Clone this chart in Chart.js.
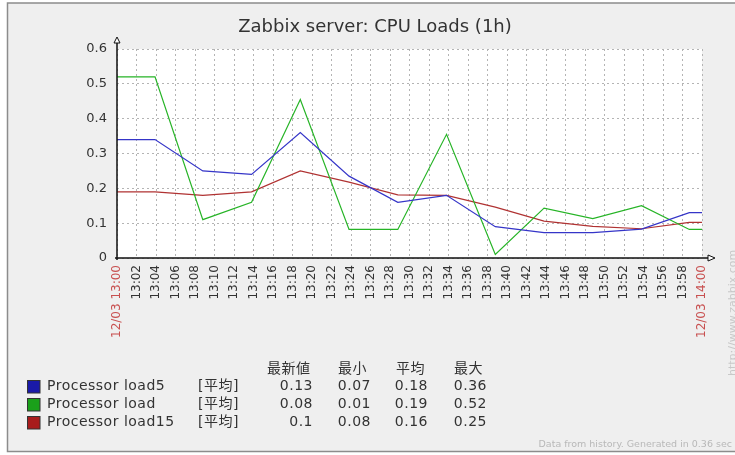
<!DOCTYPE html>
<html>
<head>
<meta charset="utf-8">
<script src="https://cdn.jsdelivr.net/npm/chart.js@4/dist/chart.umd.min.js"></script>
<style>
html, body { margin: 0; padding: 0; background: #fff; }
</style>
</head>
<body>
<canvas id="cpu-loads-chart" width="735" height="455"></canvas>
<script>
// minutes after 13:00 for every sample
const minutes = [0, 3.9, 8.8, 13.8, 18.8, 23.8, 28.8, 33.8, 38.8, 43.8, 48.8, 53.8, 58.7, 60];
const load5 = [0.34, 0.34, 0.25, 0.24, 0.36, 0.235, 0.16, 0.18, 0.09, 0.073, 0.073, 0.083, 0.13, 0.13];
const load1 = [0.52, 0.52, 0.11, 0.16, 0.455, 0.082, 0.082, 0.355, 0.01, 0.143, 0.113, 0.15, 0.082, 0.082];
const load15 = [0.19, 0.19, 0.18, 0.19, 0.25, 0.218, 0.181, 0.18, 0.146, 0.106, 0.091, 0.084, 0.102, 0.102];

const seriesNames = ['Processor load5', 'Processor load', 'Processor load15'];
const lineColors = ['#3535c8', '#26b426', '#b03232'];
const boxColors = ['#1a1aa8', '#1aa01a', '#a81c1c'];
const statHeaders = ['最新値', '最小', '平均', '最大'];
const lastVals = [0.13, 0.08, 0.1];
const minVals = [0.07, 0.01, 0.08];
const avgVals = [0.18, 0.19, 0.16];
const maxVals = [0.36, 0.52, 0.25];

const startLabel = '12/03 13:00';
const endLabel = '12/03 14:00';

Chart.defaults.font.family = "'DejaVu Sans', sans-serif";

function points(vals) {
    return minutes.map((m, i) => ({ x: m, y: vals[i] }));
}

const zabbixFrame = {
    id: 'zabbixFrame',
    beforeDraw(chart) {
        const { ctx, chartArea: a } = chart;
        ctx.save();
        ctx.fillStyle = '#ffffff';
        ctx.fillRect(0, 0, chart.width, chart.height);
        ctx.fillStyle = '#efefef';
        ctx.fillRect(7.5, 3, 740, 448.5);
        ctx.strokeStyle = '#8c8c8c';
        ctx.lineWidth = 1.5;
        ctx.strokeRect(7.5, 3, 740, 448.5);
        ctx.fillStyle = '#ffffff';
        ctx.fillRect(a.left, a.top, a.right - a.left, a.bottom - a.top);
        ctx.restore();
    },
    afterDraw(chart) {
        const { ctx, chartArea: a } = chart;
        ctx.save();
        // axes with arrows
        ctx.strokeStyle = '#111';
        ctx.lineWidth = 1.5;
        ctx.beginPath();
        ctx.moveTo(a.left, a.bottom + 2);
        ctx.lineTo(a.left, a.top - 6);
        ctx.moveTo(a.left - 2, a.bottom);
        ctx.lineTo(a.right + 6, a.bottom);
        ctx.stroke();
        ctx.lineWidth = 1;
        ctx.fillStyle = '#fff';
        ctx.beginPath();
        ctx.moveTo(a.left - 3, a.top - 6);
        ctx.lineTo(a.left + 3, a.top - 6);
        ctx.lineTo(a.left, a.top - 12);
        ctx.closePath();
        ctx.fill(); ctx.stroke();
        ctx.beginPath();
        ctx.moveTo(a.right + 6, a.bottom - 3);
        ctx.lineTo(a.right + 6, a.bottom + 3);
        ctx.lineTo(a.right + 13, a.bottom);
        ctx.closePath();
        ctx.fill(); ctx.stroke();

        // title
        ctx.fillStyle = '#333';
        ctx.textBaseline = 'middle';
        ctx.textAlign = 'center';
        ctx.font = "18px 'DejaVu Sans'";
        ctx.fillText('Zabbix server: CPU Loads (1h)', 375, 27);

        // legend table
        const rowY = [386.5, 404.5, 422.5];
        const colRight = [313, 371, 428, 487];
        const colLeft = [267, 338, 396, 454];
        ctx.font = "14px 'DejaVu Sans', 'Noto Sans CJK JP'";
        ctx.letterSpacing = '0.5px';
        ctx.textAlign = 'left';
        statHeaders.forEach((h, i) => ctx.fillText(h, colLeft[i], 369));
        seriesNames.forEach((name, i) => {
            const y = rowY[i];
            ctx.fillStyle = boxColors[i];
            ctx.fillRect(27, y - 6.5, 13, 13);
            ctx.strokeStyle = '#333';
            ctx.lineWidth = 1;
            ctx.strokeRect(27.5, y - 6, 12.5, 12.5);
            ctx.fillStyle = '#333';
            ctx.textAlign = 'left';
            ctx.fillText(name, 47, y);
            ctx.fillText('[平均]', 198, y);
            ctx.textAlign = 'right';
            [lastVals[i], minVals[i], avgVals[i], maxVals[i]].forEach((v, j) => {
                ctx.fillText(String(v), colRight[j], y);
            });
        });
        ctx.letterSpacing = '0px';

        // footnote and vertical link
        ctx.fillStyle = '#b8b8b8';
        ctx.font = "9.5px 'DejaVu Sans'";
        ctx.textAlign = 'right';
        ctx.fillText('Data from history. Generated in 0.36 sec', 732, 445);
        ctx.translate(733, 376);
        ctx.rotate(-Math.PI / 2);
        ctx.textAlign = 'left';
        ctx.fillStyle = '#c8c8c8';
        ctx.font = "11px 'DejaVu Sans'";
        ctx.fillText('http://www.zabbix.com', 0, 0);
        ctx.restore();
    }
};

const ctx1 = document.getElementById('cpu-loads-chart').getContext('2d');

const data = {
    datasets: [0, 1, 2].map(i => ({
        label: seriesNames[i],
        data: points([load5, load1, load15][i]),
        borderColor: lineColors[i],
        borderWidth: 1.2,
        pointRadius: 0,
        fill: false,
        tension: 0
    }))
};

const cpuLoadsChart = {
    type: 'line',
    data: data,
    options: {
        responsive: false,
        animation: false,
        layout: { padding: { left: 0, top: 49, right: 33, bottom: 0 } },
        plugins: { legend: { display: false }, tooltip: { enabled: false } },
        scales: {
            x: {
                type: 'linear',
                min: 0,
                max: 60,
                afterFit: s => { s.height = 197; },
                grid: { color: '#b4b4b4', drawTicks: false, borderDash: [2, 3] },
                border: { display: false, dash: [2, 3] },
                ticks: {
                    stepSize: 2,
                    autoSkip: false,
                    minRotation: 90,
                    maxRotation: 90,
                    padding: 7,
                    font: { size: 12 },
                    color: c => (c.tick.value === 0 || c.tick.value === 60) ? '#c85050' : '#333',
                    callback: v => {
                        if (v === 0) return startLabel;
                        if (v === 60) return endLabel;
                        return '13:' + String(v).padStart(2, '0');
                    }
                }
            },
            y: {
                min: 0,
                max: 0.6,
                afterFit: s => { s.width = 117; },
                grid: { color: '#b4b4b4', drawTicks: false, borderDash: [2, 3] },
                border: { display: false, dash: [2, 3] },
                ticks: { stepSize: 0.1, padding: 10, color: '#333', font: { size: 13 } }
            }
        }
    },
    plugins: [zabbixFrame]
};

new Chart(ctx1, cpuLoadsChart);
</script>
</body>
</html>
